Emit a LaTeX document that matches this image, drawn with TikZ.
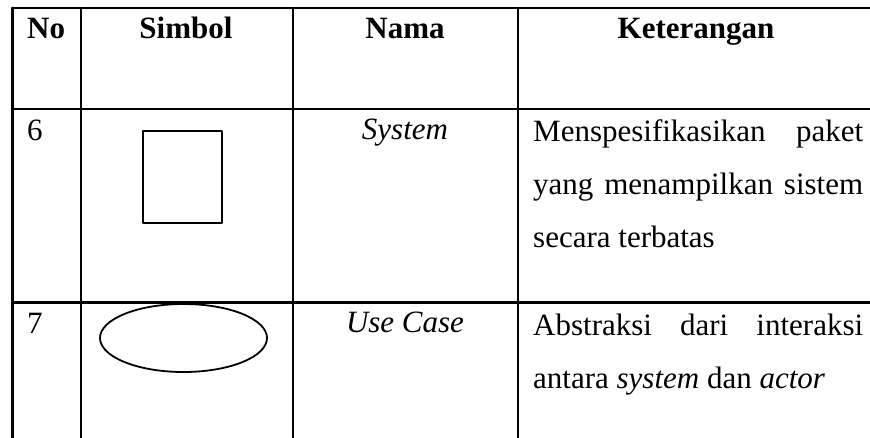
\documentclass[tikz,border=0pt]{standalone}
\usepackage{fontspec}
\setmainfont{Liberation Serif}

\begin{document}
\begin{tikzpicture}[line cap=round,line join=round,x=1pt,y=-1pt,
		rule/.style={line width=2.6pt},
		sym/.style={line width=1.8pt},
		hdr/.style={font=\fontsize{31}{36}\selectfont\bfseries,anchor=base,inner sep=0pt},
		txt/.style={font=\fontsize{31}{36}\selectfont,anchor=base,inner sep=0pt},
		desc/.style={font={\fontsize{31}{53}\selectfont\hyphenpenalty=10000\relax},anchor=base west,
			inner sep=0pt,text width=330pt,align=justify}]
	\useasboundingbox (0,0) rectangle (870,437);
	% table rules
	\draw [rule] (12.5,8)-- (872,8);
	\draw [rule] (12.5,109)-- (872,109);
	\draw [rule] (12.5,302.5)-- (872,302.5);
	\draw [rule] (12.5,8)-- (12.5,440);
	\draw [rule] (81,8)-- (81,440);
	\draw [rule] (293,8)-- (293,440);
	\draw [rule] (518,8)-- (518,440);
	% header
	\node[hdr,anchor=base west] (hNo) at (27,38) {No};
	\node[hdr] (hSimbol) at (186,38) {Simbol};
	\node[hdr] (hNama) at (405,38) {Nama};
	\node[hdr] (hKet) at (696,38) {Keterangan};
	% row 6
	\node[txt,anchor=base west] (no6) at (27,140) {6};
	\draw [sym] (143,131) rectangle (222,223);
	\node[txt] (nama6) at (405,139) {\textit{System}};
	\node[desc] (ket6) at (533,141) {Menspesifikasikan paket yang menampilkan sistem secara terbatas};
	% row 7
	\node[txt,anchor=base west] (no7) at (27,333) {7};
	\draw [sym] (183.5,338) ellipse (83.5 and 34);
	\node[txt] (nama7) at (405,332) {\textit{Use Case}};
	\node[desc] (ket7) at (533,335) {Abstraksi dari interaksi antara \textit{system} dan \textit{actor}};
\end{tikzpicture}
\end{document}
